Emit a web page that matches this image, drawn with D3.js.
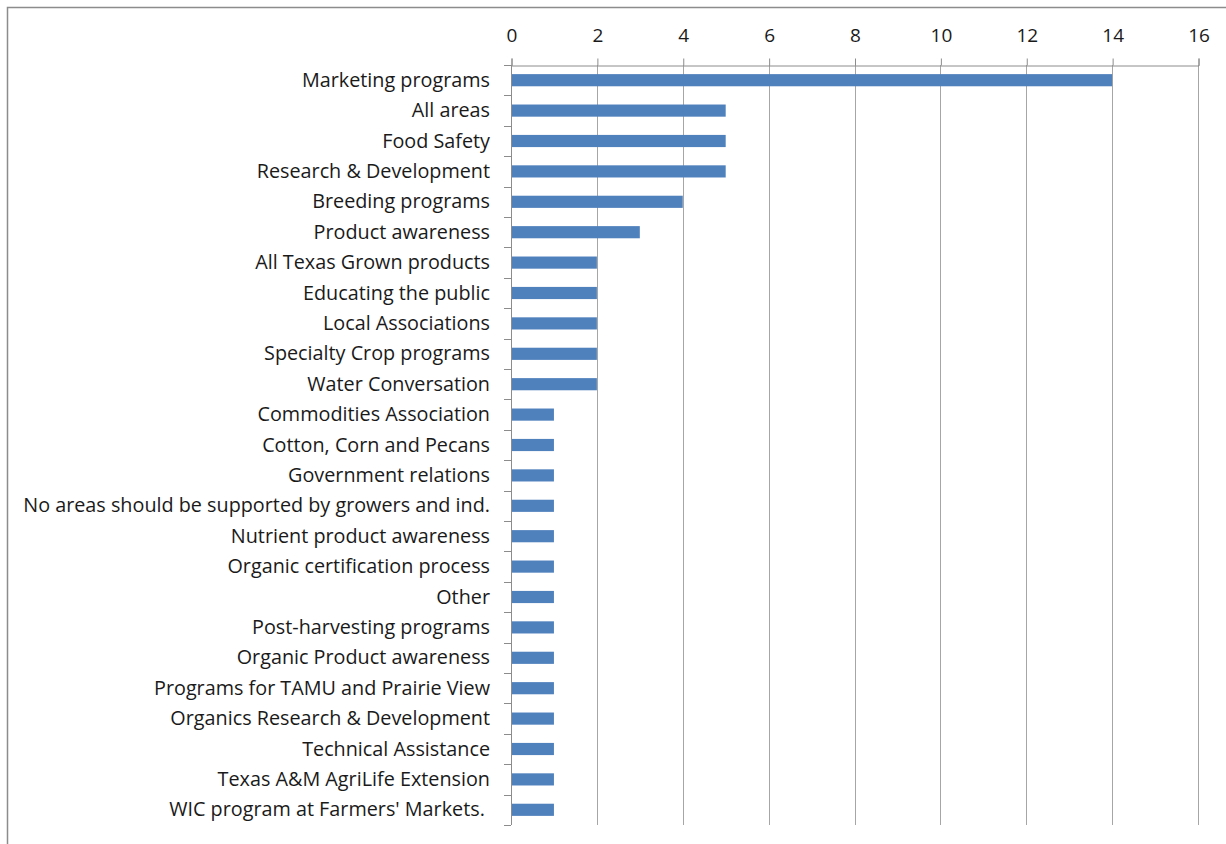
<!DOCTYPE html>
<html>
<head>
<meta charset="utf-8">
<script src="https://cdn.jsdelivr.net/npm/d3@7"></script>
<style>
  html, body { margin: 0; padding: 0; background: #fff; }
  svg { display: block; }
  text { font-family: "Open Sans", "Liberation Sans", sans-serif; fill: #1a1a1a; white-space: pre; }
</style>
</head>
<body>
<svg id="chart" width="1226" height="844"></svg>
<script>
// Areas to support, with number of responses
const categories = [
  "Marketing programs",
  "All areas",
  "Food Safety",
  "Research & Development",
  "Breeding programs",
  "Product awareness",
  "All Texas Grown products",
  "Educating the public",
  "Local Associations",
  "Specialty Crop programs",
  "Water Conversation",
  "Commodities Association",
  "Cotton, Corn and Pecans",
  "Government relations",
  "No areas should be supported by growers and ind.",
  "Nutrient product awareness",
  "Organic certification process",
  "Other",
  "Post-harvesting programs",
  "Organic Product awareness",
  "Programs for TAMU and Prairie View",
  "Organics Research & Development",
  "Technical Assistance",
  "Texas A&M AgriLife Extension",
  "WIC program at Farmers' Markets. "
];
const counts = [14, 5, 5, 5, 4, 3, 2, 2, 2, 2, 2, 1, 1, 1, 1, 1, 1, 1, 1, 1, 1, 1, 1, 1, 1];
const xTicks = [0, 2, 4, 6, 8, 10, 12, 14, 16];

const svg = d3.select("#chart");
const plot = { left: 511, right: 1198, top: 65, bottom: 825 };

// outer chart frame (extends past the right and bottom edges)
svg.append("rect")
  .attr("x", 7.5).attr("y", 7.5)
  .attr("width", 1240).attr("height", 860)
  .attr("fill", "none").attr("stroke", "#8c8c8c").attr("stroke-width", 1.5);

const x = d3.scaleLinear().domain([0, 16]).range([plot.left, plot.right]);
const y = d3.scaleBand().domain(categories).range([plot.top, plot.bottom]).paddingInner(0.6).paddingOuter(0.3);

// vertical gridlines
svg.append("g")
  .selectAll("line")
  .data(xTicks.slice(1))
  .join("line")
  .attr("x1", d => Math.round(x(d)) + 0.5).attr("x2", d => Math.round(x(d)) + 0.5)
  .attr("y1", plot.top).attr("y2", plot.bottom)
  .attr("stroke", "#a6a6a6").attr("stroke-width", 1);

// bars
svg.append("g")
  .selectAll("rect")
  .data(categories)
  .join("rect")
  .attr("x", x(0))
  .attr("y", d => y(d))
  .attr("width", (d, i) => x(counts[i]) - x(0))
  .attr("height", y.bandwidth())
  .attr("fill", "#4f81bd");

// top value axis
const xAxis = svg.append("g")
  .attr("transform", `translate(0.5,${plot.top + 0.5})`)
  .call(d3.axisTop(x).tickValues(xTicks).tickSize(7).tickPadding(17).tickFormat(d3.format("d")));
xAxis.select(".domain").attr("stroke", "#8c8c8c");
xAxis.selectAll(".tick line").attr("stroke", "#8c8c8c");
xAxis.selectAll(".tick text")
  .attr("font-size", 19).attr("fill", "#1a1a1a")
  .style("font-family", "\"Open Sans\", sans-serif");

// left category axis with tick marks between categories
const step = (plot.bottom - plot.top) / categories.length;
const yAxis = svg.append("g");
yAxis.append("line")
  .attr("x1", plot.left + 0.5).attr("x2", plot.left + 0.5)
  .attr("y1", plot.top).attr("y2", plot.bottom)
  .attr("stroke", "#8c8c8c");
yAxis.selectAll("line.tk")
  .data(d3.range(categories.length + 1))
  .join("line").attr("class", "tk")
  .attr("x1", plot.left - 7).attr("x2", plot.left)
  .attr("y1", i => Math.round(plot.top + i * step) + 0.5)
  .attr("y2", i => Math.round(plot.top + i * step) + 0.5)
  .attr("stroke", "#8c8c8c");
yAxis.selectAll("text")
  .data(categories)
  .join("text")
  .attr("x", 490)
  .attr("y", d => y(d) + y.bandwidth() / 2)
  .attr("dy", "0.33em")
  .attr("text-anchor", "end")
  .attr("font-size", 19.8)
  .text(d => d);
</script>
</body>
</html>
